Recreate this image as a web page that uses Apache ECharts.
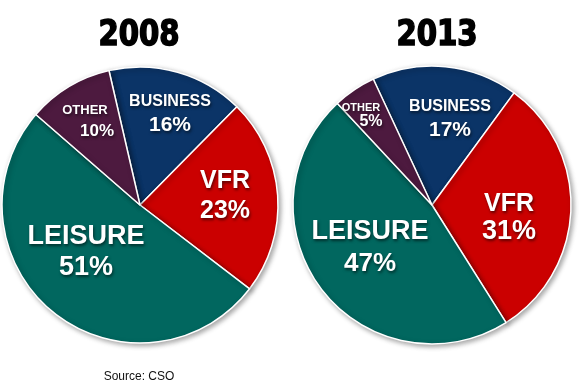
<!DOCTYPE html>
<html>
<head>
<meta charset="utf-8">
<script src="https://cdn.jsdelivr.net/npm/echarts@6/dist/echarts.min.js"></script>
<style>html,body{margin:0;padding:0;background:#fff}#c{width:580px;height:390px}</style>
</head>
<body>
<div id="c"></div>
<script>
const categories = ['BUSINESS', 'VFR', 'LEISURE', 'OTHER'];
const years = ['2008', '2013'];
const values2008 = [16, 23, 51, 10];
const values2013 = [17, 31, 47, 5];
const colors = ['#0b3467', '#cb0000', '#01675f', '#4d1a3f'];
const sourceText = 'Source: CSO';

const chart = echarts.init(document.getElementById('c'));

function pieSeries(vals, center, radius, startAngle) {
  return {
    type: 'pie',
    center: center,
    radius: radius,
    startAngle: startAngle,
    clockwise: true,
    silent: true,
    animation: false,
    z: 1,
    label: { show: false },
    labelLine: { show: false },
    itemStyle: {
      borderColor: '#ffffff',
      borderWidth: 1.5,
      shadowBlur: 5,
      shadowColor: 'rgba(0,0,0,0.35)',
      shadowOffsetX: 2,
      shadowOffsetY: 2
    },
    data: categories.map((c, i) => ({ name: c, value: vals[i], itemStyle: { color: colors[i] } }))
  };
}

// label layout (positions only)
const labelLayout = [
  // 2008
  [
    { nx: 170, ny: 102, ns: 16, vy: 125, vs: 21 },
    { nx: 225, ny: 181, ns: 25, vy: 211, vs: 25 },
    { nx: 86, ny: 237, ns: 27, vy: 268, vs: 27 },
    { nx: 85, ny: 110, ns: 13, vx: 97, vy: 131, vs: 17 }
  ],
  // 2013
  [
    { nx: 450, ny: 107, ns: 16, vy: 130, vs: 21 },
    { nx: 509, ny: 204, ns: 25, vy: 232, vs: 27 },
    { nx: 370, ny: 232, ns: 27, vy: 264, vs: 26 },
    { nx: 361, ny: 108, ns: 11, vx: 371, vy: 122, vs: 16 }
  ]
];

const textShadow = { textShadowColor: 'rgba(0,0,0,0.55)', textShadowBlur: 3, textShadowOffsetX: 1, textShadowOffsetY: 2 };

const graphics = [];
[values2008, values2013].forEach((vals, k) => {
  categories.forEach((c, i) => {
    const L = labelLayout[k][i];
    graphics.push({
      type: 'text', x: L.nx, y: L.ny, z: 100, silent: true,
      style: Object.assign({ text: c, fill: '#fff', font: 'bold ' + L.ns + 'px "Liberation Sans", Arial, sans-serif', align: 'center', verticalAlign: 'middle' }, textShadow)
    });
    graphics.push({
      type: 'text', x: (L.vx !== undefined ? L.vx : L.nx), y: L.vy, z: 100, silent: true,
      style: Object.assign({ text: vals[i] + '%', fill: '#fff', font: 'bold ' + L.vs + 'px "Liberation Sans", Arial, sans-serif', align: 'center', verticalAlign: 'middle' }, textShadow)
    });
  });
});

// titles
const titlePos = [[139, 36], [437, 36]];
years.forEach((y, k) => {
  graphics.push({
    type: 'text', x: titlePos[k][0], y: titlePos[k][1], scaleX: 0.9, z: 100, silent: true,
    style: {
      text: y, fill: '#000', font: 'bold 36px "DejaVu Sans Condensed", "Liberation Sans Narrow", sans-serif',
      align: 'center', verticalAlign: 'middle',
      stroke: '#000', lineWidth: 1.5,
      shadowColor: 'rgba(0,0,0,0.4)', shadowBlur: 4, shadowOffsetX: 2, shadowOffsetY: 3
    }
  });
});

graphics.push({
  type: 'text', x: 139, y: 377, z: 100, silent: true,
  style: { text: sourceText, fill: '#111', font: '12px "Liberation Sans", Arial, sans-serif', align: 'center', verticalAlign: 'middle' }
});

chart.setOption({
  animation: false,
  backgroundColor: '#ffffff',
  series: [
    pieSeries(values2008, [140, 205], 138, 103),
    pieSeries(values2013, [432, 205], 139, 115)
  ],
  graphic: { elements: graphics }
});
</script>
</body>
</html>
